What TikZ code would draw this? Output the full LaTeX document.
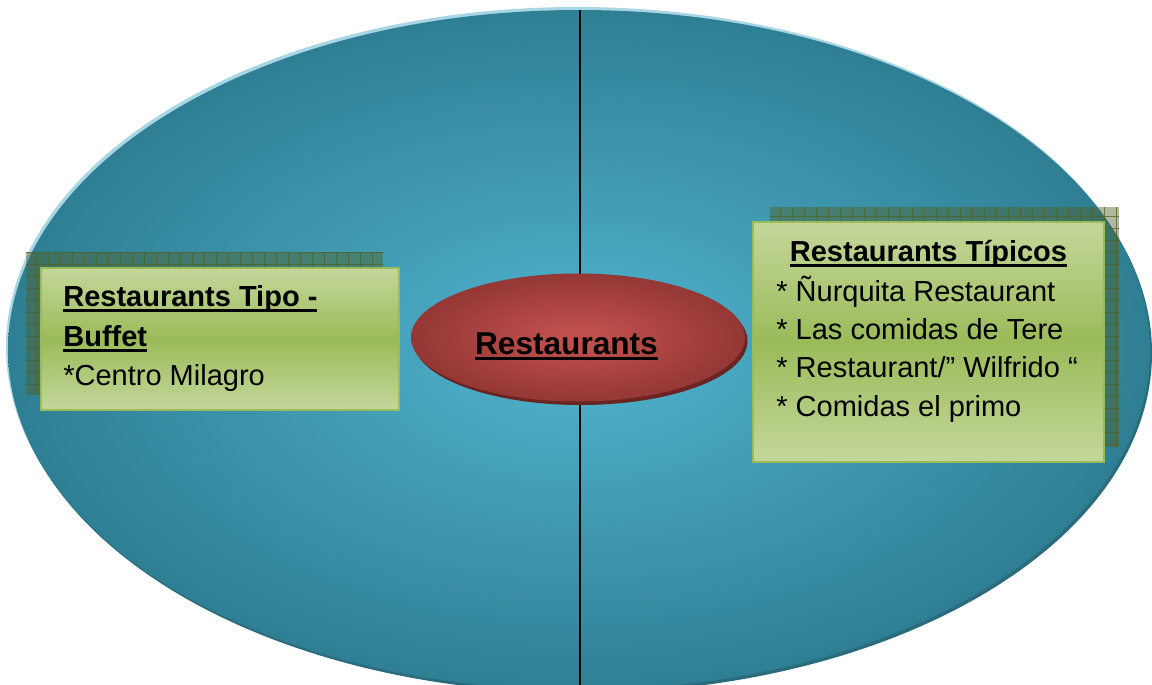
\documentclass[tikz,border=0pt]{standalone}
\usepackage{fontspec}
\setmainfont{Liberation Sans}
\definecolor{seaLight}{HTML}{4BACC6}
\definecolor{seaDark}{HTML}{2F7F94}
\definecolor{seaRim}{HTML}{A8D6E4}
\definecolor{seaShade}{HTML}{2A6B7C}
\definecolor{hubLight}{HTML}{C0504D}
\definecolor{hubDark}{HTML}{943735}
\definecolor{hubShade}{HTML}{6A2422}
\definecolor{boxLight}{HTML}{C4D79B}
\definecolor{boxMid}{HTML}{9BBB59}
\definecolor{gridOlive}{HTML}{4F6228}
% radial fills for the two ellipses
\pgfdeclareradialshading{sea}{\pgfpointorigin}{color(0bp)=(seaLight); color(4bp)=(seaLight); color(25bp)=(seaDark); color(50bp)=(seaDark)}
\pgfdeclareradialshading{hub}{\pgfpointorigin}{color(0bp)=(hubLight); color(3bp)=(hubLight); color(25bp)=(hubDark); color(50bp)=(hubDark)}
% thick underline sitting just below the baseline
\newcommand{\hdul}[1]{\setbox0=\hbox{#1}\rlap{\rule[-3pt]{\wd0}{1.5pt}}\box0}
\tikzset{
  tilebox/.style={top color=boxLight,bottom color=boxLight,middle color=boxMid,draw=boxMid,line width=1.2pt},
  hatch/.style={fill=gridOlive,fill opacity=0.45},
  hatchgrid/.style={draw=gridOlive,line width=0.35pt,opacity=0.75},
  boxtext/.style={anchor=base west,inner sep=0pt,font=\fontsize{14.5}{19}\selectfont},
  axis/.style={line width=0.6pt,black}
}

\begin{document}
\begin{tikzpicture}[x=0.5pt,y=-0.5pt]
  \useasboundingbox (0,0) rectangle (1152,685);
  \clip (0,0) rectangle (1152,685);
  % big ellipse: light rim top-left, dark rim bottom-right
  \fill[seaRim] (577,347) ellipse [x radius=571, y radius=340];
  \fill[seaShade] (581,353) ellipse [x radius=571, y radius=340];
  \shade[shading=sea] (579,350) ellipse [x radius=571, y radius=340];
  % dividing line
  \coordinate (axtop) at (580,10);
  \coordinate (axbot) at (580,685);
  \draw[axis] (axtop) -- (axbot);
  % left box (hatched backing, then gradient card)
  \fill[hatch] (26,252) rectangle (383,395);
  \draw[hatchgrid,step=6pt] (26,252) grid (383,395);
  \shade[tilebox] (41,268) rectangle (399,410);
  % right box
  \fill[hatch] (770,207) rectangle (1119,447);
  \draw[hatchgrid,step=6pt] (770,207) grid (1119,447);
  \shade[tilebox] (753,222) rectangle (1104,462);
  % centre ellipse
  \fill[hubShade] (580.5,341) ellipse [x radius=167, y radius=64];
  \shade[shading=hub] (578,337.5) ellipse [x radius=167, y radius=64];
  \node[anchor=base,inner sep=0pt,font=\fontsize{15.8}{19}\selectfont\bfseries] (hub) at (566.5,354) {\hdul{Restaurants}};
  % left box text
  \node[boxtext,font=\fontsize{14.5}{19}\selectfont\bfseries] (buffet1) at (63,306) {\hdul{Restaurants Tipo -}};
  \node[boxtext,font=\fontsize{14.5}{19}\selectfont\bfseries] (buffet2) at (63,346) {\hdul{Buffet}};
  \node[boxtext] (milagro) at (63,385) {*Centro Milagro};
  % right box text
  \node[anchor=base,inner sep=0pt,font=\fontsize{14.5}{19}\selectfont\bfseries] (tipicos) at (928.5,261) {\hdul{Restaurants Típicos}};
  \node[boxtext] (nurquita) at (776,301) {* Ñurquita Restaurant};
  \node[boxtext] (tere) at (776,339) {* Las comidas de Tere};
  \node[boxtext] (wilfrido) at (776,377.5) {* Restaurant/” Wilfrido “};
  \node[boxtext] (primo) at (776,416) {* Comidas el primo};
\end{tikzpicture}
\end{document}
